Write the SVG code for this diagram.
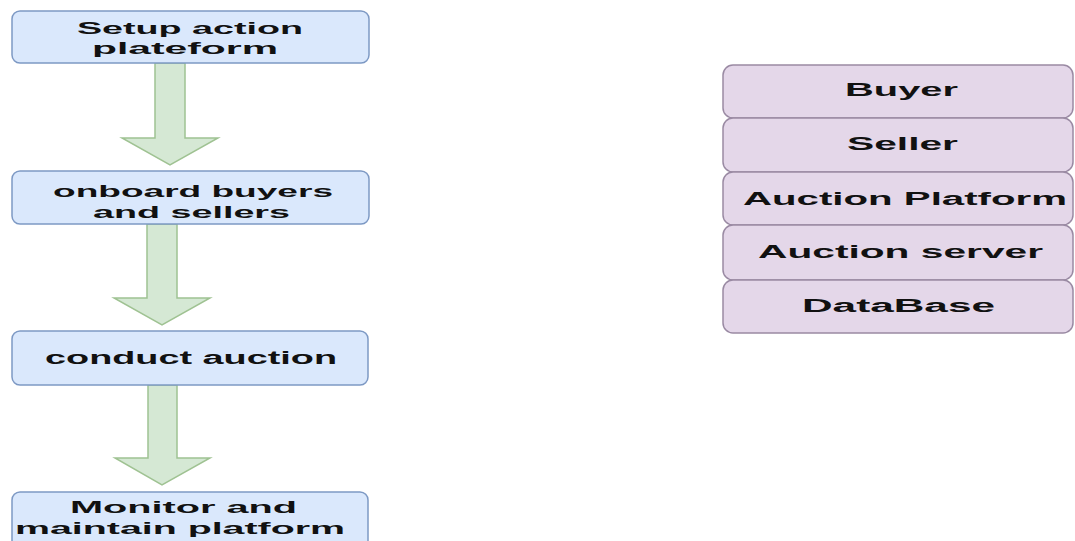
<svg xmlns="http://www.w3.org/2000/svg" width="1075" height="541" viewBox="0 0 1075 541">
<style>
.bg{fill:#ffffff}
.step{fill:#dae8fc;stroke:#7d99c4;stroke-width:1.5}
.layer{fill:#e4d7e9;stroke:#9a8aa3;stroke-width:1.5}
.arrow{fill:#d5e8d4;stroke:#9fc292;stroke-width:1.5}
text{font-family:"Liberation Sans",Arial,sans-serif;font-weight:bold;font-size:18px;fill:#111111;text-anchor:start}
text.two{font-size:17px}
</style>
<rect class="bg" x="0" y="0" width="1075" height="541"/>
<g id="connectors">
  <path class="arrow" d="M155,63 L185,63 L185,138 L218,138 L170,165 L122,138 L155,138 Z"/>
  <path class="arrow" d="M147,224 L177,224 L177,298 L210,298 L162,325 L114,298 L147,298 Z"/>
  <path class="arrow" d="M148,385 L177,385 L177,458 L210,458 L162,485 L115,458 L148,458 Z"/>
</g>
<g id="step1">
  <rect class="step" x="12" y="11" width="357" height="52" rx="8"/>
  <text class="two" x="77" y="34" textLength="226" lengthAdjust="spacingAndGlyphs">Setup action</text>
  <text class="two" x="92" y="54" textLength="186" lengthAdjust="spacingAndGlyphs">plateform</text>
</g>
<g id="step2">
  <rect class="step" x="12" y="171" width="357" height="53" rx="8"/>
  <text class="two" x="53" y="197" textLength="280" lengthAdjust="spacingAndGlyphs">onboard buyers</text>
  <text class="two" x="93" y="218" textLength="197" lengthAdjust="spacingAndGlyphs">and sellers</text>
</g>
<g id="step3">
  <rect class="step" x="12" y="331" width="356" height="54" rx="8"/>
  <text x="45" y="364" textLength="292" lengthAdjust="spacingAndGlyphs">conduct auction</text>
</g>
<g id="step4">
  <rect class="step" x="12" y="492" width="356" height="60" rx="8"/>
  <text class="two" x="70" y="513" textLength="227" lengthAdjust="spacingAndGlyphs">Monitor and</text>
  <text class="two" x="15" y="534" textLength="330" lengthAdjust="spacingAndGlyphs">maintain platform</text>
</g>
<g id="buyer">
  <rect class="layer" x="723" y="65" width="350" height="53" rx="10"/>
  <text x="845" y="96" textLength="113" lengthAdjust="spacingAndGlyphs">Buyer</text>
</g>
<g id="seller">
  <rect class="layer" x="723" y="118" width="350" height="54" rx="10"/>
  <text x="847" y="150" textLength="111" lengthAdjust="spacingAndGlyphs">Seller</text>
</g>
<g id="auction-platform">
  <rect class="layer" x="723" y="172" width="350" height="53" rx="10"/>
  <text x="743" y="205" textLength="324" lengthAdjust="spacingAndGlyphs">Auction Platform</text>
</g>
<g id="auction-server">
  <rect class="layer" x="723" y="225" width="350" height="55" rx="10"/>
  <text x="758" y="258" textLength="285" lengthAdjust="spacingAndGlyphs">Auction server</text>
</g>
<g id="database">
  <rect class="layer" x="723" y="280" width="350" height="53" rx="10"/>
  <text x="802" y="312" textLength="193" lengthAdjust="spacingAndGlyphs">DataBase</text>
</g>
</svg>
